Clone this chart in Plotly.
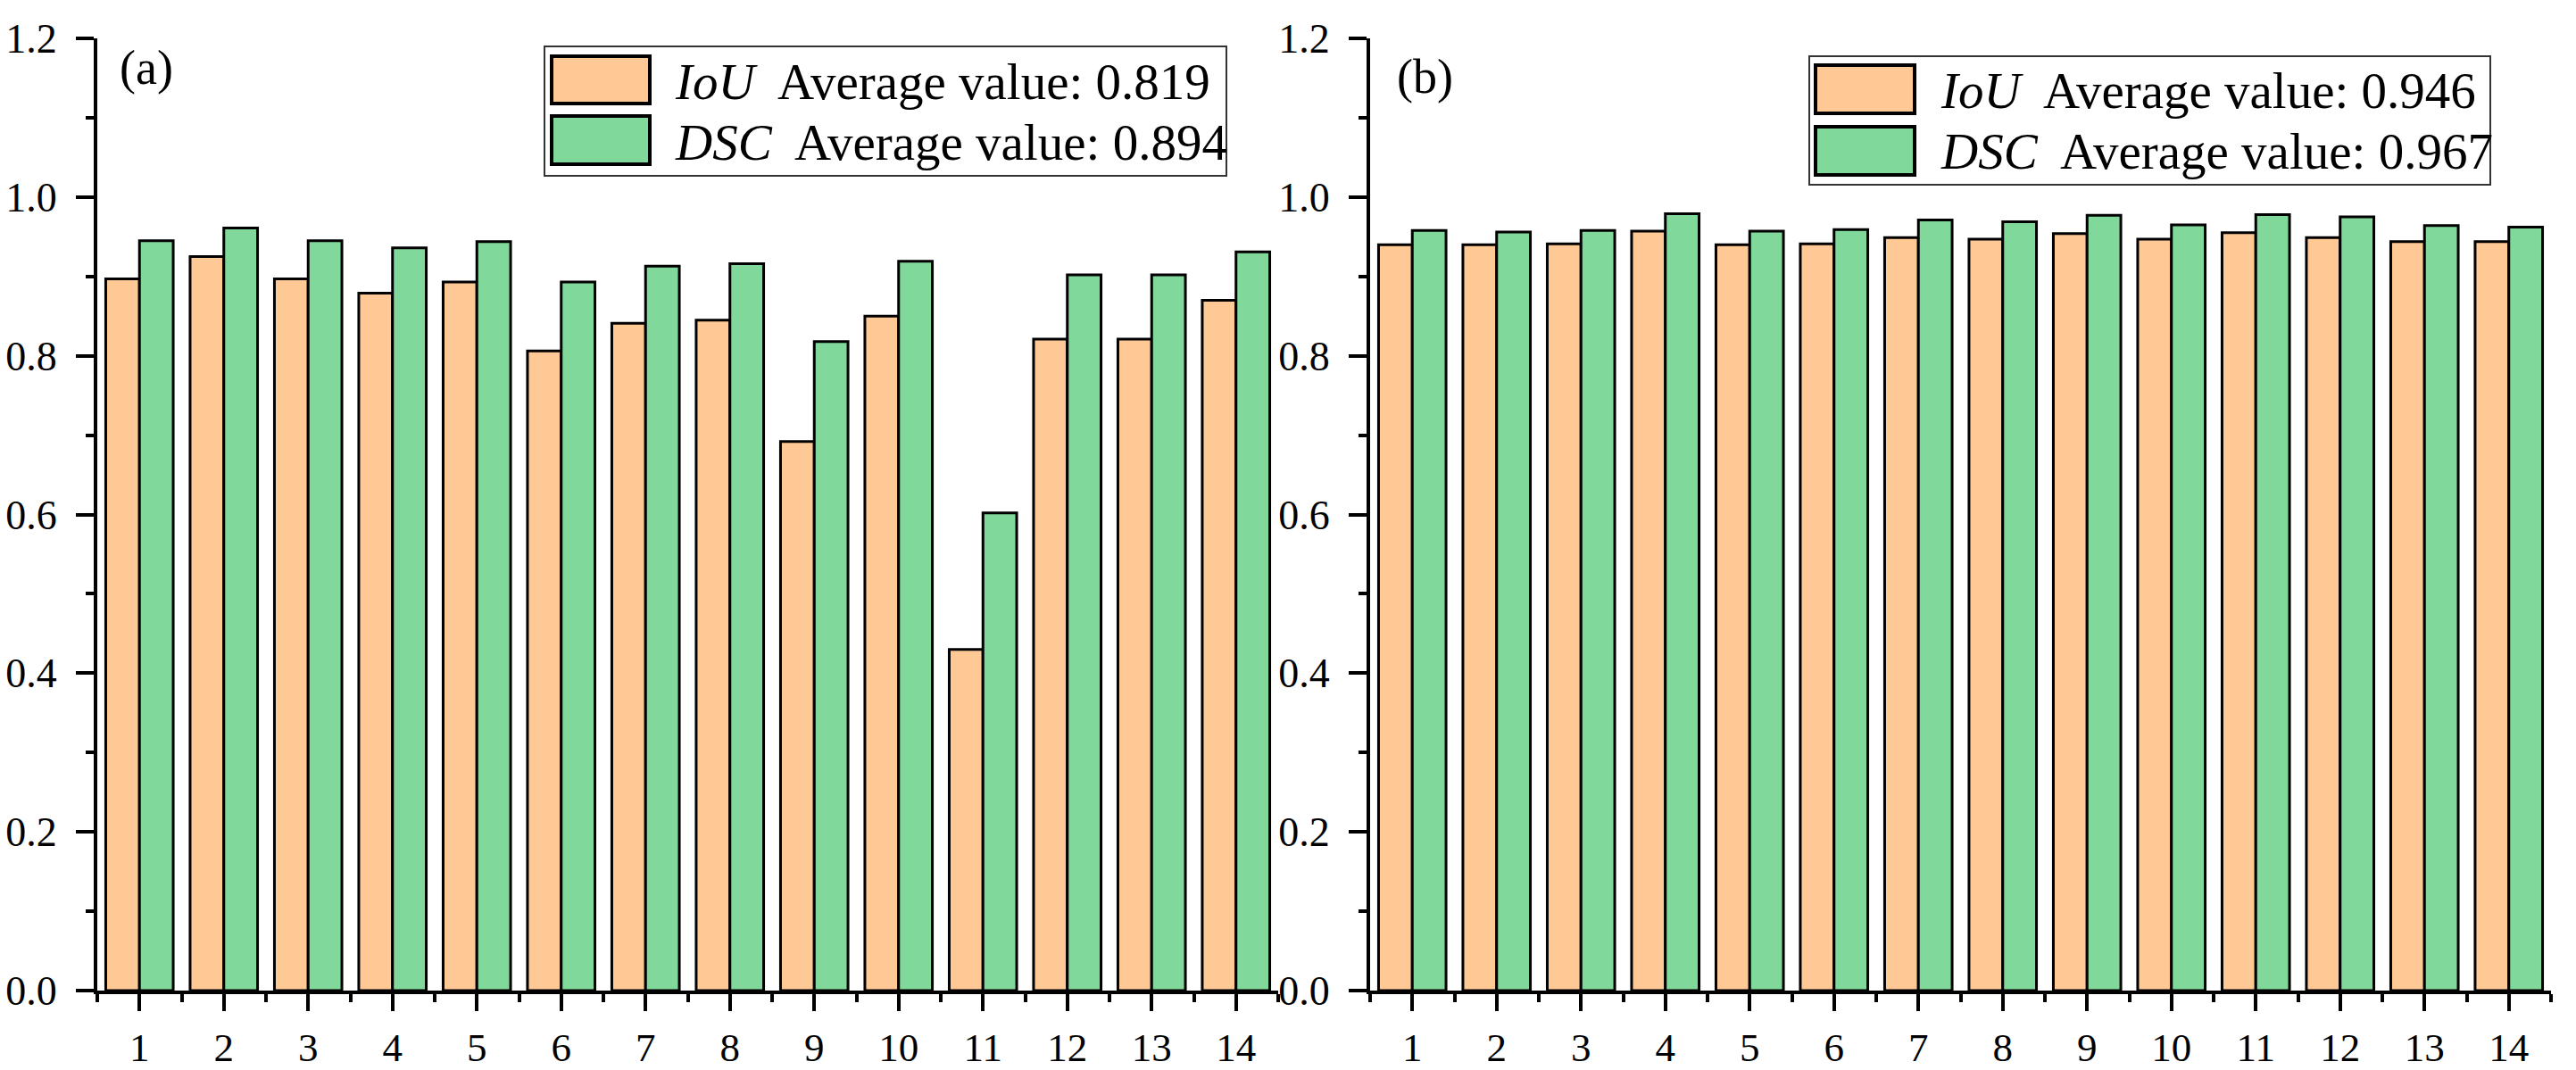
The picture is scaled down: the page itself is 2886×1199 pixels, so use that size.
import plotly.graph_objects as go

# ---------------- data ----------------
samples = list(range(1, 15))
x_labels = [str(s) for s in samples]

iou_a = [0.897, 0.925, 0.897, 0.879, 0.893, 0.806, 0.841, 0.845, 0.692, 0.850, 0.430, 0.821, 0.821, 0.870]
dsc_a = [0.945, 0.961, 0.945, 0.936, 0.944, 0.893, 0.913, 0.916, 0.818, 0.919, 0.602, 0.902, 0.902, 0.931]

iou_b = [0.940, 0.940, 0.941, 0.957, 0.940, 0.941, 0.949, 0.947, 0.954, 0.947, 0.955, 0.949, 0.944, 0.944]
dsc_b = [0.958, 0.956, 0.958, 0.979, 0.957, 0.959, 0.971, 0.969, 0.977, 0.965, 0.978, 0.975, 0.964, 0.962]

avg_iou = ["0.819", "0.946"]
avg_dsc = ["0.894", "0.967"]
panel_labels = ["(a)", "(b)"]

y_ticks = [0.0, 0.2, 0.4, 0.6, 0.8, 1.0, 1.2]
y_minor = [0.1, 0.3, 0.5, 0.7, 0.9, 1.1]
x_minor = [k + 0.5 for k in range(15)]

# ---------------- style ----------------
W, H = 2886, 1199
IOU_COLOR = "#FFC996"
DSC_COLOR = "#80D99A"
FONT = "Liberation Serif"


def px(x):
    return x / W


def py(y):
    return 1 - y / H


fig = go.Figure()

panels = [(iou_a, dsc_a, "x", "y"), (iou_b, dsc_b, "x2", "y2")]
for iou, dsc, xa, ya in panels:
    fig.add_trace(go.Bar(x=samples, y=iou, name="IoU", xaxis=xa, yaxis=ya,
                         marker=dict(color=IOU_COLOR, line=dict(color="black", width=3)),
                         showlegend=False))
    fig.add_trace(go.Bar(x=samples, y=dsc, name="DSC", xaxis=xa, yaxis=ya,
                         marker=dict(color=DSC_COLOR, line=dict(color="black", width=3)),
                         showlegend=False))


def xaxis_cfg(domain, anchor):
    return dict(domain=domain, anchor=anchor, range=[0.5, 14.5], automargin=False,
                tickmode="array", tickvals=samples, ticktext=x_labels,
                ticks="outside", ticklen=19, tickwidth=4, tickcolor="black",
                minor=dict(tickmode="array", tickvals=x_minor, ticks="outside",
                           ticklen=9, tickwidth=4, tickcolor="black"),
                showline=True, linewidth=4, linecolor="black",
                showgrid=False, zeroline=False,
                tickfont=dict(family=FONT, size=45, color="black"),
                ticklabelstandoff=2)


def yaxis_cfg(domain, anchor):
    return dict(domain=domain, anchor=anchor, range=[0, 1.2], automargin=False,
                tickmode="array", tickvals=y_ticks, tickformat=".1f",
                ticks="outside", ticklen=20, tickwidth=4, tickcolor="black",
                minor=dict(tickmode="array", tickvals=y_minor, ticks="outside",
                           ticklen=9, tickwidth=4, tickcolor="black"),
                showline=True, linewidth=4, linecolor="black",
                showgrid=False, zeroline=False,
                tickfont=dict(family=FONT, size=46, color="black"),
                ticklabelstandoff=12)


ydom = [py(1110), py(43)]
fig.update_layout(
    width=W, height=H,
    margin=dict(l=0, r=0, t=0, b=0, pad=0),
    paper_bgcolor="white", plot_bgcolor="white",
    font=dict(family=FONT, color="black"),
    barmode="group", bargap=0.2, bargroupgap=0,
    xaxis=xaxis_cfg([px(109), px(1432)], "y"),
    yaxis=yaxis_cfg(ydom, "x"),
    xaxis2=xaxis_cfg([px(1535), px(2858)], "y2"),
    yaxis2=yaxis_cfg(ydom, "x2"),
)

# ---------------- custom legends & panel labels ----------------
legend_geo = [
    dict(box=(610, 1374, 52, 197), sw=(618, 728), r1=(63, 116), r2=(130, 184),
         tx=754, ty=(91, 159)),
    dict(box=(2027, 2790, 63, 207), sw=(2034, 2145), r1=(73, 127), r2=(142, 196),
         tx=2172, ty=(102, 170)),
]
label_pos = [(132, 76), (1563, 86)]

shapes = []
annotations = []
for i, g in enumerate(legend_geo):
    bx0, bx1, by0, by1 = g["box"]
    shapes.append(dict(type="rect", xref="paper", yref="paper",
                       x0=px(bx0), x1=px(bx1), y0=py(by1), y1=py(by0),
                       line=dict(color="#333333", width=2), fillcolor="white"))
    sx0, sx1 = g["sw"]
    rows = [(g["r1"], g["ty"][0], IOU_COLOR, "IoU", avg_iou[i]),
            (g["r2"], g["ty"][1], DSC_COLOR, "DSC", avg_dsc[i])]
    for (ry0, ry1), ty, col, name, avg in rows:
        shapes.append(dict(type="rect", xref="paper", yref="paper",
                           x0=px(sx0), x1=px(sx1), y0=py(ry1), y1=py(ry0),
                           line=dict(color="black", width=4), fillcolor=col))
        annotations.append(dict(xref="paper", yref="paper", x=px(g["tx"]), y=py(ty),
                                xanchor="left", yanchor="middle", showarrow=False,
                                text=f"<i>{name}</i>&nbsp; Average value: {avg}",
                                font=dict(family=FONT, size=57, color="black")))
    lx, ly = label_pos[i]
    annotations.append(dict(xref="paper", yref="paper", x=px(lx), y=py(ly),
                            xanchor="left", yanchor="middle", showarrow=False,
                            text=panel_labels[i],
                            font=dict(family=FONT, size=54, color="black")))

fig.update_layout(shapes=shapes, annotations=annotations)

fig.write_html("out.html",
               config={"displayModeBar": False},
               post_script="document.body.style.margin='0px';"
                           "document.body.style.overflow='hidden';")
